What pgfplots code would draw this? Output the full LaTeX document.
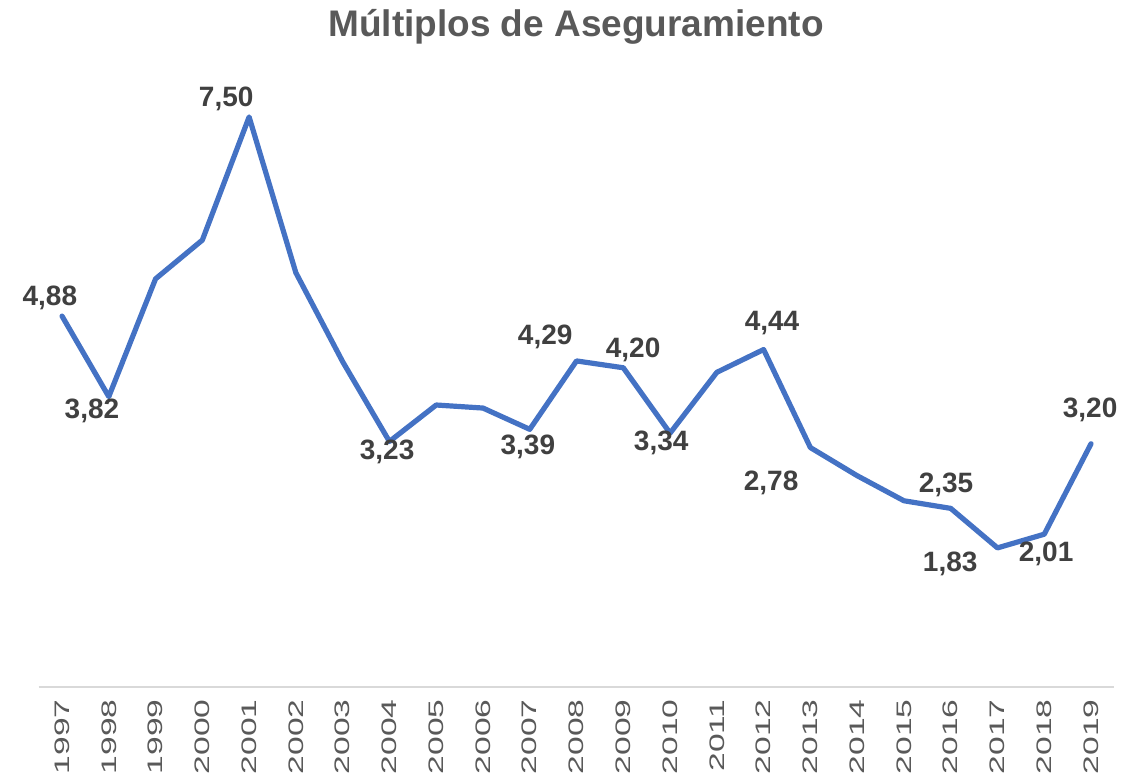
\documentclass[border=0pt]{standalone}
\usepackage{pgfplots}
\pgfplotsset{compat=1.18}
\usepackage{fontspec}
\setmainfont{Liberation Sans}
\definecolor{linecol}{HTML}{4472C4}
\definecolor{lblcol}{HTML}{404040}
\definecolor{ticcol}{HTML}{595959}
\definecolor{axcol}{HTML}{D9D9D9}
\newcommand{\yl}[1]{\scalebox{1.6}[1]{#1}}
\begin{document}
\begin{tikzpicture}
\begin{axis}[
  scale only axis,
  width=537.86pt, height=323pt,
  xmin=1996.5, xmax=2019.5,
  ymin=0, ymax=8.5,
  clip=false,
  axis x line*=bottom,
  axis y line=none,
  x axis line style={-, draw=axcol, line width=1pt},
  xtick={1997,...,2019},
  xticklabels={\yl{1997},\yl{1998},\yl{1999},\yl{2000},\yl{2001},\yl{2002},\yl{2003},\yl{2004},\yl{2005},\yl{2006},\yl{2007},\yl{2008},\yl{2009},\yl{2010},\yl{2011},\yl{2012},\yl{2013},\yl{2014},\yl{2015},\yl{2016},\yl{2017},\yl{2018},\yl{2019}},
  xticklabel style={rotate=90, anchor=east, font=\fontsize{10.5}{12}\selectfont, text=ticcol, inner sep=0pt, xshift=-6pt},
  major tick length=0pt,
  every tick/.style={draw=none},
  ytick=\empty,
]
\addplot[color=linecol, line width=2.6pt, line cap=round, line join=round] coordinates {
(1997,4.88) (1998,3.82) (1999,5.37) (2000,5.88) (2001,7.50) (2002,5.45)
(2003,4.28) (2004,3.23) (2005,3.71) (2006,3.67) (2007,3.39) (2008,4.29)
(2009,4.20) (2010,3.34) (2011,4.14) (2012,4.44) (2013,3.15) (2014,2.78)
(2015,2.45) (2016,2.35) (2017,1.83) (2018,2.01) (2019,3.20)
};
\begin{scope}[every node/.style={font=\bfseries\fontsize{14}{16}\selectfont, text=lblcol, inner sep=0pt}]
\node at (axis cs:1996.74,5.118) {4,88};
\node at (axis cs:1997.64,3.632) {3,82};
\node at (axis cs:2000.51,7.737) {7,50};
\node at (axis cs:2003.95,3.092) {3,23};
\node at (axis cs:2006.96,3.158) {3,39};
\node at (axis cs:2007.33,4.605) {4,29};
\node at (axis cs:2009.21,4.434) {4,20};
\node at (axis cs:2009.81,3.211) {3,34};
\node at (axis cs:2012.18,4.789) {4,44};
\node at (axis cs:2012.16,2.684) {2,78};
\node at (axis cs:2015.90,2.658) {2,35};
\node at (axis cs:2015.99,1.618) {1,83};
\node at (axis cs:2018.04,1.750) {2,01};
\node at (axis cs:2018.98,3.645) {3,20};
\end{scope}
\node[font=\bfseries\fontsize{18.5}{22}\selectfont, text=ticcol, inner sep=0pt] at (axis cs:2007.99,8.684) {Múltiplos de Aseguramiento};
\coordinate (bl) at (axis cs:1995.674,-1.171);
\coordinate (tr) at (axis cs:2020.09,9.039);
\end{axis}
\pgfresetboundingbox
\path[use as bounding box] (bl) rectangle (tr);
\end{tikzpicture}
\end{document}
